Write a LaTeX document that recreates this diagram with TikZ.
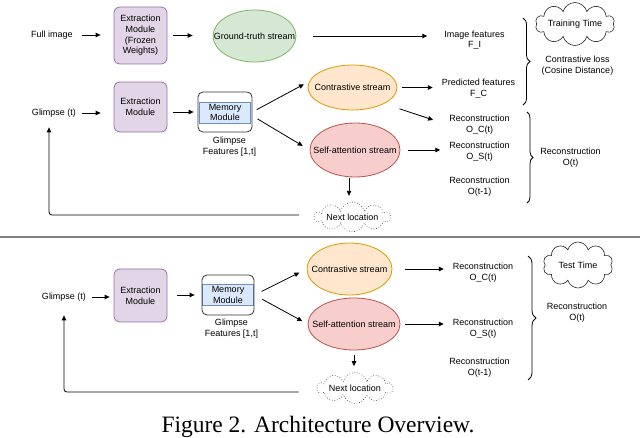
\documentclass[tikz,border=0pt]{standalone}
\usepackage{fontspec}
\setmainfont{Liberation Serif}
\setsansfont{Liberation Sans}
\usepackage{xcolor}
\usepackage{tikz}
\usetikzlibrary{shapes.geometric, shapes.symbols, arrows.meta, decorations.pathreplacing}

\definecolor{extfill}{HTML}{E1D5E7}
\definecolor{extdraw}{HTML}{9673A6}
\definecolor{gtfill}{HTML}{D5E8D4}
\definecolor{gtdraw}{HTML}{82B366}
\definecolor{confill}{HTML}{FFE6CC}
\definecolor{condraw}{HTML}{D79B00}
\definecolor{safill}{HTML}{F8CECC}
\definecolor{sadraw}{HTML}{B85450}
\definecolor{memfill}{HTML}{DAE8FC}
\definecolor{memdraw}{HTML}{6C8EBF}

\tikzset{
    lbl/.style={font=\sffamily\fontsize{9}{10.7}\selectfont, align=center, inner sep=1pt},
    extbox/.style={lbl, draw=extdraw, fill=extfill, rounded corners=6pt, minimum width=53pt, line width=0.8pt},
    stream/.style={lbl, ellipse, inner xsep=-14pt, inner ysep=0pt, line width=0.8pt},
    memband/.style={lbl, draw=memdraw, fill=memfill, minimum width=51pt, minimum height=21pt, line width=0.6pt},
    membox/.style={draw=black!80, rounded corners=5pt, minimum width=54pt, minimum height=40pt, line width=0.8pt},
    cloudbox/.style={lbl, cloud, cloud puffs=10, cloud ignores aspect, draw=black!85, line width=0.6pt},
    arr/.style={-{Triangle[length=5pt,width=4.5pt]}, line width=0.8pt},
    brc/.style={decorate, decoration={brace, amplitude=#1}, line width=0.8pt},
}

\begin{document}
\begin{tikzpicture}[x=1pt, y=-1pt]
    \useasboundingbox (0,0) rectangle (640,438);

    % training part
    \node[lbl] (full) at (52,35) {Full image};
    \node[extbox, minimum height=57pt] (ext1) at (140.5,35.5) {Extraction\\Module\\(Frozen\\Weights)};
    \node[stream, draw=gtdraw, fill=gtfill, minimum width=83pt, minimum height=52pt] (gt) at (254.5,36) {Ground-truth stream};
    \node[lbl] (imgfeat) at (474.5,40) {Image features\\F\_I};
    \node[cloudbox, minimum width=76pt, minimum height=43pt] (train) at (575,24) {Training Time};
    \node[lbl] (closs) at (577.5,66) {Contrastive loss\\(Cosine Distance)};

    \node[lbl] (glimpse1) at (54,113) {Glimpse (t)};
    \node[extbox, minimum height=50pt] (ext2) at (140.5,107) {Extraction\\Module};
    \node[memband] (mem1b) at (225,112.5) {Memory\\Module};
    \node[membox] (mem1) at (225,112) {};
    \node[lbl] (gfeat1) at (229.5,147) {Glimpse\\Features [1,t]};
    \node[stream, draw=condraw, fill=confill, minimum width=89pt, minimum height=45pt] (cont1) at (352.5,87.5) {Contrastive stream};
    \node[stream, draw=sadraw, fill=safill, minimum width=90pt, minimum height=54pt] (sa1) at (355,150) {Self-attention stream};
    \node[lbl] (predfeat) at (478.5,88.5) {Predicted features\\F\_C};
    \node[lbl] (oc1) at (479.5,125) {Reconstruction\\O\_C(t)};
    \node[lbl] (os1) at (479.5,152) {Reconstruction\\O\_S(t)};
    \node[lbl] (ot1) at (479.5,187) {Reconstruction\\O(t-1)};
    \node[lbl] (o1) at (570.5,158) {Reconstruction\\O(t)};
    \node[cloudbox, dotted, minimum width=75pt, minimum height=28pt] (next1) at (352.5,217) {Next location};

    \draw[arr, shorten <=8pt, shorten >=13pt] (full) -- (full -| ext1.west);
    \draw[arr, shorten <=6pt, shorten >=20pt] (ext1) -- (ext1 -| gt.west);
    \draw[arr, shorten <=17pt, shorten >=16pt] (gt) -- (gt -| imgfeat.west);
    \draw[arr, shorten <=5pt, shorten >=13pt] (glimpse1) -- (glimpse1 -| ext2.west);
    \draw[arr, shorten <=6pt, shorten >=4pt] (mem1 -| ext2.east) -- (mem1);
    \draw[arr, shorten <=5pt, shorten >=6pt] (mem1.east) -- (cont1.172);
    \draw[arr, shorten <=6pt, shorten >=8pt] (mem1.-8) -- (sa1.west);
    \draw[arr, shorten <=5pt, shorten >=8pt] (cont1) -- (cont1 -| predfeat.west);
    \draw[arr, shorten <=16pt, shorten >=16pt] (cont1.south east) -- (oc1.west);
    \draw[arr, shorten <=8pt, shorten >=8pt] (sa1) -- (sa1 -| os1.west);
    \draw[arr, shorten <=1pt, shorten >=6pt] ([xshift=-6pt]sa1.south) -- ([xshift=-6pt]sa1.south |- next1.north);
    \draw[arr, rounded corners=3pt, shorten <=15pt, shorten >=9pt] ([yshift=2pt]next1.west) -| ([xshift=-5pt]glimpse1.south);

    \draw[brc=7pt] (523,18) -- (523,105);
    \draw[brc=6pt] (527,112) -- (527,203);

    % separator
    \draw[gray, line width=1.5pt] (0,237) -- (640,237);

    % test part
    \node[lbl] (glimpse2) at (64,297) {Glimpse (t)};
    \node[extbox, minimum height=53pt] (ext3) at (140.5,295.5) {Extraction\\Module};
    \node[memband] (mem2b) at (228,295) {Memory\\Module};
    \node[membox, minimum width=52pt] (mem2) at (228,295) {};
    \node[lbl] (gfeat2) at (231.5,328.5) {Glimpse\\Features [1,t]};
    \node[stream, draw=condraw, fill=confill, minimum width=85pt, minimum height=52pt] (cont2) at (349.5,269) {Contrastive stream};
    \node[stream, draw=sadraw, fill=safill, minimum width=92pt, minimum height=52pt] (sa2) at (354,324) {Self-attention stream};
    \node[lbl] (oc2) at (483,273) {Reconstruction\\O\_C(t)};
    \node[lbl] (os2) at (483,328.5) {Reconstruction\\O\_S(t)};
    \node[lbl] (ot2) at (479.5,368) {Reconstruction\\O(t-1)};
    \node[cloudbox, minimum width=70pt, minimum height=46pt] (test) at (578,265) {Test Time};
    \node[lbl] (o2) at (577,312.5) {Reconstruction\\O(t)};
    \node[cloudbox, dotted, minimum width=74pt, minimum height=31pt] (next2) at (355,388) {Next location};

    \draw[arr, shorten <=5pt, shorten >=4pt] (glimpse2) -- (glimpse2 -| ext3.west);
    \draw[arr, shorten <=10pt, shorten >=7pt] (mem2 -| ext3.east) -- (mem2);
    \draw[arr, shorten <=8pt, shorten >=8pt] (mem2.east) -- (cont2.west);
    \draw[arr, shorten <=9pt, shorten >=6pt] (mem2.east) -- (sa2.west);
    \draw[arr, shorten <=13pt, shorten >=8pt] (cont2) -- (cont2 -| oc2.west);
    \draw[arr, shorten <=5pt, shorten >=8pt] (sa2) -- (sa2 -| os2.west);
    \draw[arr, shorten <=5pt, shorten >=6pt] (sa2.south) -- (sa2.south |- next2.north);
    \draw[arr, rounded corners=3pt, shorten <=18pt, shorten >=13pt] ([yshift=-4pt]next2.west) -| (glimpse2.south);

    \draw[brc=8pt] (528,256) -- (528,380);

    \node[font=\fontsize{23.5}{26}\selectfont, anchor=base, inner sep=0pt] (caption) at (318,432.5) {Figure 2. Architecture Overview.};
\end{tikzpicture}
\end{document}
